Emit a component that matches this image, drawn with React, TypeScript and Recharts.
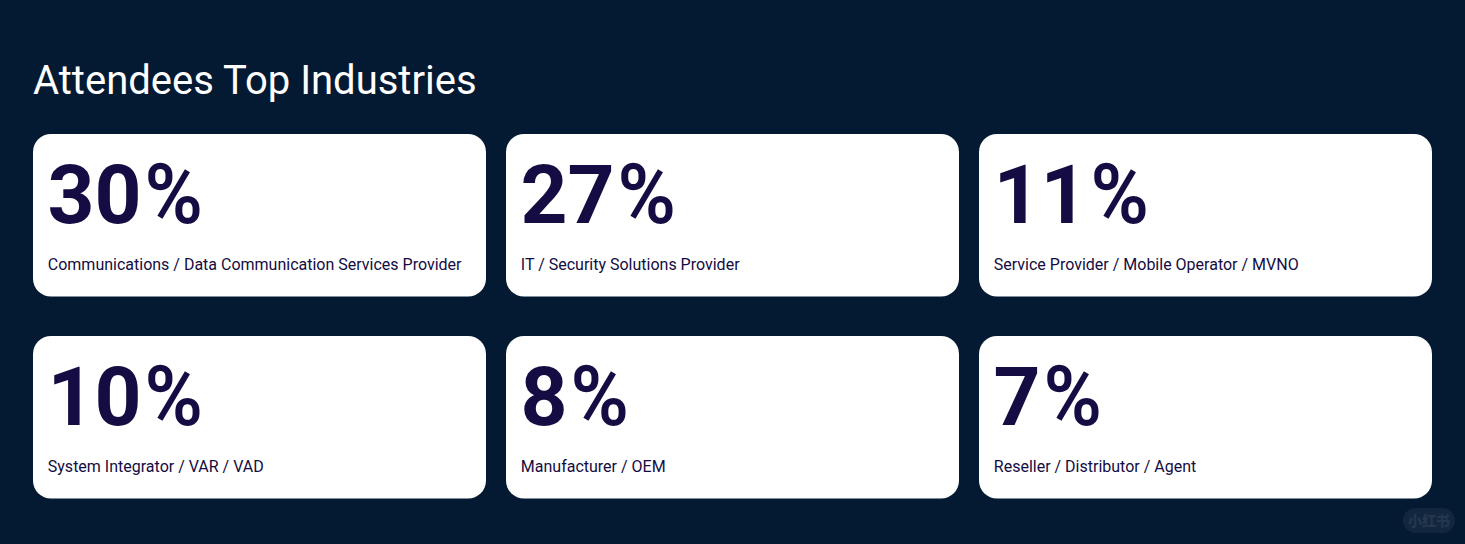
import { ScatterChart, Scatter, XAxis, YAxis } from 'recharts';

const industries = [
  'Communications / Data Communication Services Provider',
  'IT / Security Solutions Provider',
  'Service Provider / Mobile Operator / MVNO',
  'System Integrator / VAR / VAD',
  'Manufacturer / OEM',
  'Reseller / Distributor / Agent',
];
const shares = [30, 27, 11, 10, 8, 7];
const columns = [0, 1, 2, 0, 1, 2];
const rows = [0, 0, 0, 1, 1, 1];

const data = industries.map((name, i) => ({
  name,
  share: shares[i],
  col: columns[i],
  row: rows[i],
}));

const BG = '#041a33';
const INK = '#140c42';
const CARD_W = 453;
const CARD_H = 162.5;

function StatCard(props: any) {
  const { cx, cy, payload } = props;
  return (
    <g>
      <rect x={cx} y={cy} width={CARD_W} height={CARD_H} rx={18} ry={18} fill="#ffffff" />
      <text x={cx + 14.5} y={cy + 89} fill={INK} fontFamily="Roboto" fontSize={82}>
        <tspan fontWeight={700}>{payload.share}</tspan>
        <tspan fontWeight={600} fontSize={84} dx={3} textLength={58.5} lengthAdjust="spacingAndGlyphs">%</tspan>
      </text>
      <text x={cx + 14.8} y={cy + 136} fill={INK} fontFamily="Roboto" fontSize={16}>
        {payload.name}
      </text>
    </g>
  );
}

export default function App() {
  return (
    <div style={{ position: 'absolute', left: 0, top: 0, width: 1465, height: 544, background: BG, overflow: 'hidden' }}>
      <div
        style={{
          position: 'absolute',
          left: 33,
          top: 58,
          color: '#ffffff',
          fontFamily: 'Roboto',
          fontSize: 40,
          lineHeight: '46px',
          whiteSpace: 'nowrap',
        }}
      >
        Attendees Top Industries
      </div>
      <ScatterChart width={1465} height={544} margin={{ top: 134, right: 13, bottom: 6, left: 33 }}>
        <XAxis type="number" dataKey="col" domain={[0, 3]} hide />
        <YAxis type="number" dataKey="row" domain={[0, 2]} reversed hide />
        <Scatter data={data} shape={StatCard} isAnimationActive={false} />
      </ScatterChart>
      <div
        style={{
          position: 'absolute',
          left: 1403,
          top: 508,
          width: 52,
          height: 25,
          borderRadius: 13,
          background: '#12273f',
          color: '#24374c',
          fontFamily: '"Noto Sans CJK SC"',
          fontSize: 14,
          fontWeight: 900,
          lineHeight: '25px',
          textAlign: 'center',
        }}
      >
        小红书
      </div>
    </div>
  );
}
